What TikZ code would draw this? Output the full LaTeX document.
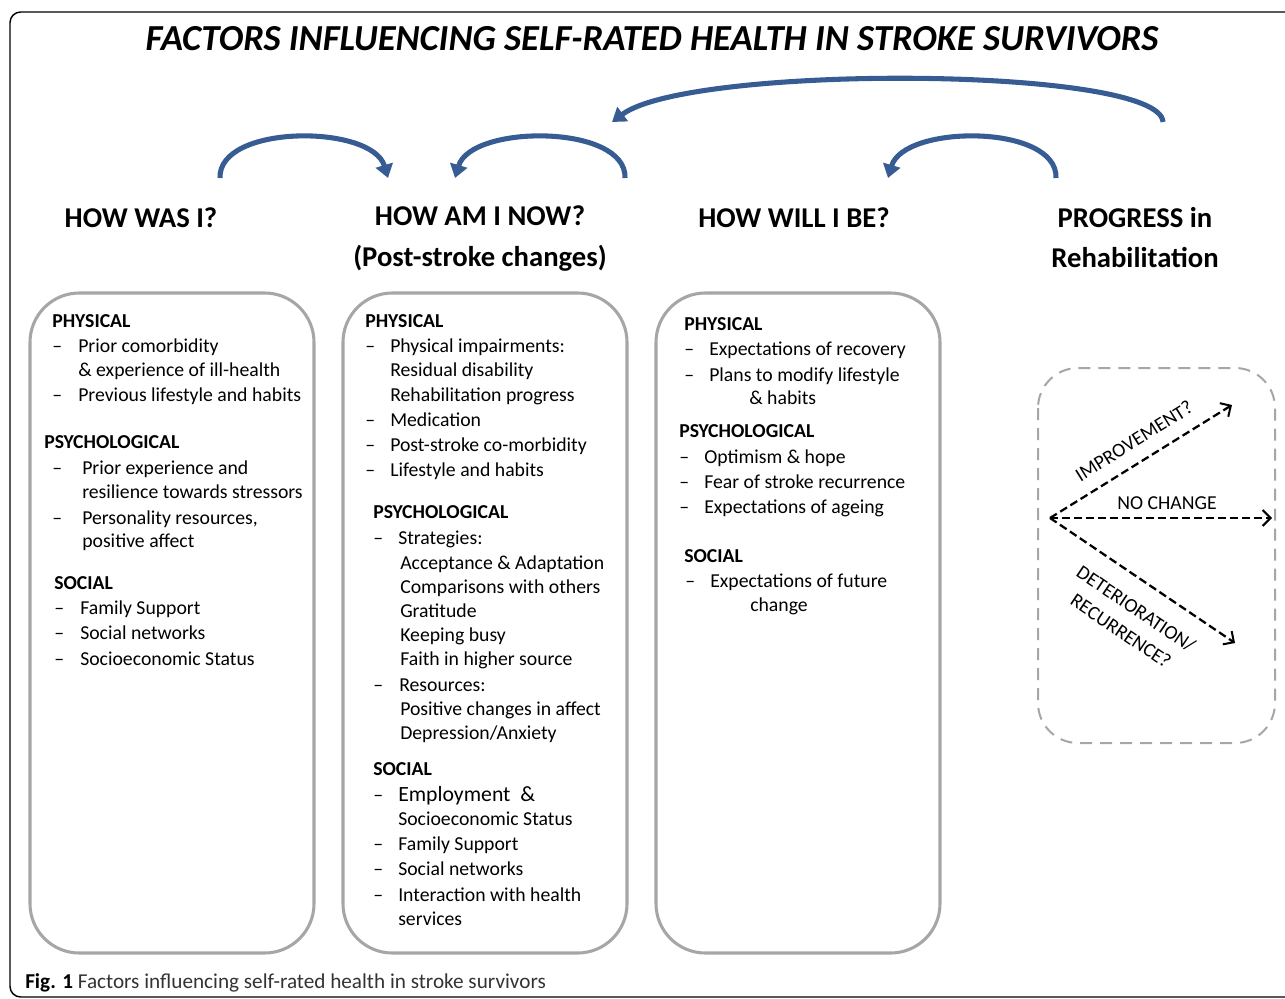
\documentclass[tikz,border=0pt]{standalone}
\usepackage{fontspec}
\setmainfont{Carlito}
\usetikzlibrary{arrows.meta}
\definecolor{panelgray}{HTML}{A6A6A6}
\definecolor{arrowblue}{HTML}{375C94}
\newcommand\bodyfont{\fontsize{14.8}{18}\selectfont}
\begin{document}
\begin{tikzpicture}[x=0.75pt,y=-0.75pt,
  txt/.style={inner sep=0pt, anchor=base west, font=\bodyfont},
  hd/.style={inner sep=0pt, anchor=base west, font=\bodyfont\bfseries},
  bighd/.style={inner sep=0pt, anchor=base, font=\fontsize{21.5}{26}\selectfont\bfseries},
  panel/.style={draw=panelgray, line width=2.3pt, rounded corners=37pt},
  bluearrow/.style={draw=arrowblue, line width=3.8pt, -{Triangle[width=13pt,length=10pt]}},
  dasharrow/.style={draw=black, line width=1.7pt, dash pattern=on 6pt off 3pt, -{Straight Barb[length=6pt,width=12pt,line width=1.5pt]}},
  lbl/.style={inner sep=0pt, font=\bodyfont}]
\useasboundingbox (0,0) rectangle (1285,999);
\begin{scope}
\clip (0,0) rectangle (1285,999);
\draw[line width=1.1pt, rounded corners=8pt] (10,12) rectangle (1320,997);
\end{scope}

% title
\node[inner sep=0pt, anchor=base, font=\fontsize{27.5}{32}\selectfont\bfseries\itshape] (title) at (652,51) {FACTORS INFLUENCING SELF-RATED HEALTH IN STROKE SURVIVORS};

% column headings
\node[bighd] (hwas) at (141,227) {HOW WAS I?};
\node[bighd] (hnow) at (480,225) {HOW AM I NOW?};
\node[bighd] (hpost) at (480,266) {(Post-stroke changes)};
\node[bighd] (hwill) at (794,227) {HOW WILL I BE?};
\node[bighd] (hprog) at (1135,227) {PROGRESS in};
\node[bighd] (hrehab) at (1135,267) {Rehabilitation};

% blue arrows
\coordinate (a1s) at (220,178); \coordinate (a1e) at (388,178);
\coordinate (a2s) at (625,178); \coordinate (a2e) at (455,178);
\coordinate (a3s) at (1056,178); \coordinate (a3e) at (888,178);
\coordinate (a4s) at (1163,122); \coordinate (a4e) at (612,122);
\draw[bluearrow] (a1s) .. controls (218,124) and (372,124) .. (a1e);
\draw[bluearrow] (a2s) .. controls (627,124) and (471,124) .. (a2e);
\draw[bluearrow] (a3s) .. controls (1058,124) and (904,124) .. (a3e);
\draw[bluearrow] (a4s) .. controls (1160,66) and (690,64) .. (a4e);

% panels
\draw[panel] (30,293) rectangle (314,953);
\draw[panel] (343,293) rectangle (627,953);
\draw[panel] (656,293) rectangle (940,953);
\draw[draw=panelgray, line width=1.5pt, dash pattern=on 9pt off 6pt, rounded corners=30pt] (1038,368) rectangle (1275,743);

% box 1
\node[hd] (p1) at (52,327) {PHYSICAL};
\node[txt] (d11) at (52,352) {–};
\node[txt] (t11) at (78,352) {Prior comorbidity};
\node[txt] (t12) at (78,376) {\& experience of ill-health};
\node[txt] (d12) at (52,401) {–};
\node[txt] (t13) at (78,401) {Previous lifestyle and habits};
\node[hd] (s1) at (44,448) {PSYCHOLOGICAL};
\node[txt] (d13) at (52,474) {–};
\node[txt] (t14) at (82,474) {Prior experience and};
\node[txt] (t15) at (82,498) {resilience towards stressors};
\node[txt] (d14) at (52,524) {–};
\node[txt] (t16) at (82,524) {Personality resources,};
\node[txt] (t17) at (82,547) {positive affect};
\node[hd] (so1) at (54,589) {SOCIAL};
\node[txt] (d15) at (54,614) {–};
\node[txt] (t18) at (80,614) {Family Support};
\node[txt] (d16) at (54,639) {–};
\node[txt] (t19) at (80,639) {Social networks};
\node[txt] (d17) at (54,665) {–};
\node[txt] (t1a) at (80,665) {Socioeconomic Status};

% box 2
\node[hd] (p2) at (365,327) {PHYSICAL};
\node[txt] (d21) at (365,352) {–};
\node[txt] (t21) at (390,352) {Physical impairments:};
\node[txt] (t22) at (390,376) {Residual disability};
\node[txt] (t23) at (390,401) {Rehabilitation progress};
\node[txt] (d22) at (365,426) {–};
\node[txt] (t24) at (390,426) {Medication};
\node[txt] (d23) at (365,451) {–};
\node[txt] (t25) at (390,451) {Post-stroke co-morbidity};
\node[txt] (d24) at (365,476) {–};
\node[txt] (t26) at (390,476) {Lifestyle and habits};
\node[hd] (s2) at (373,518) {PSYCHOLOGICAL};
\node[txt] (d25) at (373,544) {–};
\node[txt] (t27) at (398,544) {Strategies:};
\node[txt] (t28) at (400,569) {Acceptance \& Adaptation};
\node[txt] (t29) at (400,593) {Comparisons with others};
\node[txt] (t2a) at (400,617) {Gratitude};
\node[txt] (t2b) at (400,641) {Keeping busy};
\node[txt] (t2c) at (400,665) {Faith in higher source};
\node[txt] (d26) at (373,691) {–};
\node[txt] (t2d) at (399,691) {Resources:};
\node[txt] (t2e) at (400,715) {Positive changes in affect};
\node[txt] (t2f) at (400,739) {Depression/Anxiety};
\node[hd] (so2) at (373,775) {SOCIAL};
\node[txt] (d27) at (373,801) {–};
\node[txt, font=\fontsize{16.3}{19}\selectfont] (t2g) at (398,801) {Employment \ \&};
\node[txt] (t2h) at (398,825) {Socioeconomic Status};
\node[txt] (d28) at (373,850) {–};
\node[txt] (t2i) at (398,850) {Family Support};
\node[txt] (d29) at (373,875) {–};
\node[txt] (t2j) at (398,875) {Social networks};
\node[txt] (d2a) at (373,901) {–};
\node[txt] (t2k) at (398,901) {Interaction with health};
\node[txt] (t2l) at (398,925) {services};

% box 3
\node[hd] (p3) at (684,330) {PHYSICAL};
\node[txt] (d31) at (684,355) {–};
\node[txt] (t31) at (709,355) {Expectations of recovery};
\node[txt] (d32) at (684,381) {–};
\node[txt] (t32) at (709,381) {Plans to modify lifestyle};
\node[txt] (t33) at (749,404) {\& habits};
\node[hd] (s3) at (679,437) {PSYCHOLOGICAL};
\node[txt] (d33) at (679,463) {–};
\node[txt] (t34) at (704,463) {Optimism \& hope};
\node[txt] (d34) at (679,488) {–};
\node[txt] (t35) at (704,488) {Fear of stroke recurrence};
\node[txt] (d35) at (679,513) {–};
\node[txt] (t36) at (704,513) {Expectations of ageing};
\node[hd] (so3) at (684,562) {SOCIAL};
\node[txt] (d36) at (685,587) {–};
\node[txt] (t37) at (710,587) {Expectations of future};
\node[txt] (t38) at (750,611) {change};

% progress arrows
\coordinate (o) at (1050,518);
\coordinate (up) at (1232,405);
\coordinate (mid) at (1272,518);
\coordinate (dn) at (1235,643);
\draw[dasharrow] (o) -- (up);
\draw[dasharrow] (o) -- (mid);
\draw[dasharrow] (o) -- (dn);
\node[lbl, rotate=32] (limp) at (1134,441) {IMPROVEMENT?};
\node[lbl] (lno) at (1167,503) {NO CHANGE};
\node[lbl, rotate=-34] (ldet) at (1136,609) {DETERIORATION/};
\node[lbl, rotate=-34] (lrec) at (1121,631) {RECURRENCE?};

% caption
\node[inner sep=0pt, anchor=base west, font=\fontsize{15.9}{19}\selectfont] (cap) at (25,988) {\textbf{Fig. 1} \color{black!80}Factors influencing self-rated health in stroke survivors};
\end{tikzpicture}
\end{document}
